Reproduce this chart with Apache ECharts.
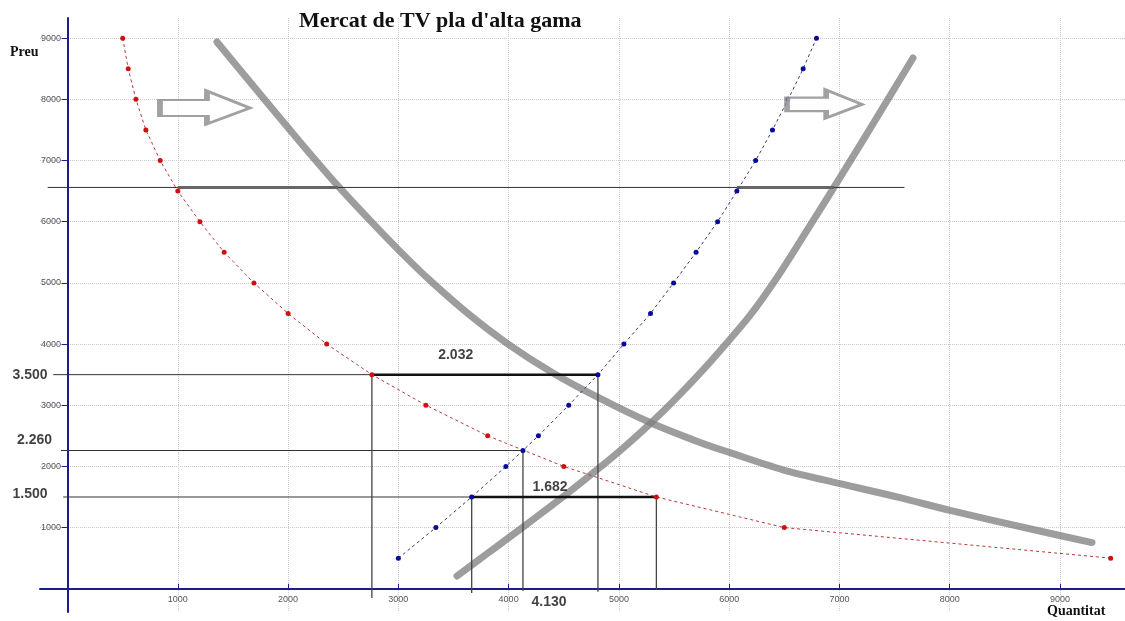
<!DOCTYPE html>
<html>
<head>
<meta charset="utf-8">
<title>Mercat de TV pla d'alta gama</title>
<script src="https://cdn.jsdelivr.net/npm/echarts@6/dist/echarts.min.js"></script>
<style>
html, body { margin: 0; padding: 0; background: #fff; }
#main { width: 1125px; height: 621px; }
</style>
</head>
<body>
<div id="main"></div>
<script>
// tick labels on both axes
var tickValues = [1000, 2000, 3000, 4000, 5000, 6000, 7000, 8000, 9000];

// demand (red dots)
var demandQty = [500, 550, 620, 710, 840, 1000, 1200, 1420, 1690, 2000, 2350, 2760, 3250, 3810, 4500, 5340, 6500, 9460];
var demandPrice = [9000, 8500, 8000, 7500, 7000, 6500, 6000, 5500, 5000, 4500, 4000, 3500, 3000, 2500, 2000, 1500, 1000, 500];

// supply (blue dots)
var supplyQty = [3000, 3340, 3665, 3975, 4130, 4270, 4545, 4810, 5045, 5287, 5496, 5700, 5895, 6070, 6240, 6393, 6535, 6671, 6792];
var supplyPrice = [500, 1000, 1500, 2000, 2260, 2500, 3000, 3500, 4000, 4500, 5000, 5500, 6000, 6500, 7000, 7500, 8000, 8500, 9000];

// hand drawn shifted curves (grey)
var newDemandQty = [1355, 1745, 2108, 2452, 2743, 3015, 3287, 3631, 3985, 4402, 4829, 5282, 5736, 6008, 6488, 7005, 7549, 8003, 8756, 9291];
var newDemandPrice = [8938, 8088, 7304, 6585, 6021, 5515, 5040, 4499, 4013, 3528, 3111, 2718, 2392, 2225, 1945, 1718, 1490, 1280, 968, 755];
var newSupplyQty = [3532, 3831, 4130, 4529, 4829, 5056, 5282, 5509, 5736, 5963, 6189, 6416, 6642, 6915, 7187, 7459, 7667];
var newSupplyPrice = [209, 608, 1007, 1553, 1985, 2328, 2696, 3096, 3524, 3985, 4468, 5040, 5673, 6458, 7252, 8056, 8677];

// guide lines [x1, y1, x2, y2]
var thinGuides = [[-180, 6560, 7590, 6560], [-130, 3500, 2760, 3500], [-60, 2260, 4130, 2260], [-40, 1500, 3665, 1500]];
var boldGuides = [[2760, 3500, 4810, 3500], [3665, 1500, 5340, 1500]];
var pencilGuides = [[1000, 6560, 2452, 6560], [6070, 6560, 6950, 6560]];
var dropGuides = [[2760, 3500, 2760, -150], [3665, 1500, 3665, -70], [4130, 2260, 4130, -35], [4810, 3500, 4810, -50], [5340, 1500, 5340, -20]];

// annotations
var noteTexts = ['3.500', '2.260', '1.500', '2.032', '1.682', '4.130'];
var noteQty = [-340, -300, -340, 3520, 4375, 4366];
var notePrice = [3500, 2430, 1550, 3820, 1664, -216];

// shift arrows
var arrowQty = [1246, 6865];
var arrowPrice = [7868, 7925];

var zip = function (xs, ys) {
    return xs.map(function (x, i) { return [x, ys[i]]; });
};

var segSeries = function (segs, color, width, z) {
    return segs.map(function (s) {
        return {
            type: 'line',
            data: [[s[0], s[1]], [s[2], s[3]]],
            symbol: 'none',
            silent: true,
            z: z,
            lineStyle: { color: color, width: width }
        };
    });
};

var axisColor = '#1c1c8c';
var arrowPath = 'path://M0,9 L47,9 L47,0 L90,17 L47,33 L47,25 L0,25 Z';
var plainNumber = function (v) { return String(v); };

var chart = echarts.init(document.getElementById('main'));

var option = {
    animation: false,
    backgroundColor: '#fff',
    title: {
        text: "Mercat de TV pla d'alta gama",
        left: 294,
        top: 5,
        textStyle: { fontFamily: 'Liberation Serif', fontWeight: 'bold', fontSize: 22, color: '#111' }
    },
    grid: { left: 40, right: 0, top: 18, bottom: 9, containLabel: false, outerBoundsMode: 'none' },
    xAxis: {
        type: 'value',
        min: -250,
        max: 9590,
        axisLine: { onZero: true, lineStyle: { color: axisColor, width: 2 } },
        axisTick: { customValues: tickValues, inside: true, length: 5, lineStyle: { color: axisColor } },
        // labels stay on the grid edge, pull them up to the zero line
        axisLabel: { customValues: tickValues, formatter: plainNumber, color: '#555', fontSize: 9, margin: -17, fontFamily: 'Liberation Sans' },
        splitLine: { show: true, lineStyle: { color: '#cacad0', type: 'dotted' } }
    },
    yAxis: {
        type: 'value',
        min: -380,
        max: 9330,
        axisLine: { onZero: true, lineStyle: { color: axisColor, width: 2 } },
        axisTick: { customValues: tickValues, length: 6, lineStyle: { color: axisColor } },
        axisLabel: { customValues: tickValues, formatter: plainNumber, color: '#555', fontSize: 9, margin: -21, fontFamily: 'Liberation Sans' },
        splitLine: { show: true, lineStyle: { color: '#cacad0', type: 'dotted' } }
    },
    graphic: [
        { type: 'text', left: 10, top: 45, style: { text: 'Preu', font: 'bold 14px "Liberation Serif"', fill: '#111' } },
        { type: 'text', left: 1047, top: 604, style: { text: 'Quantitat', font: 'bold 14px "Liberation Serif"', fill: '#111' } }
    ],
    series: [].concat(
        segSeries(thinGuides, '#333', 1, 3),
        segSeries(dropGuides, '#444', 1.3, 3),
        segSeries(boldGuides, '#111', 2.5, 4),
        segSeries(pencilGuides, '#666', 3, 4),
        [
            {
                type: 'line',
                data: zip(newDemandQty, newDemandPrice),
                smooth: 0.3,
                symbol: 'none',
                z: 2,
                lineStyle: { color: 'rgba(130,130,130,0.78)', width: 7, cap: 'round' }
            },
            {
                type: 'line',
                data: zip(newSupplyQty, newSupplyPrice),
                smooth: 0.3,
                symbol: 'none',
                z: 2,
                lineStyle: { color: 'rgba(130,130,130,0.78)', width: 7, cap: 'round' }
            },
            {
                type: 'line',
                data: zip(demandQty, demandPrice),
                symbol: 'circle',
                symbolSize: 5,
                z: 5,
                itemStyle: { color: '#d01010' },
                lineStyle: { color: '#b83a3a', width: 1, type: [3, 3] }
            },
            {
                type: 'line',
                data: zip(supplyQty, supplyPrice),
                symbol: 'circle',
                symbolSize: 5,
                z: 5,
                itemStyle: { color: '#0a0a9a' },
                lineStyle: { color: '#3a3a70', width: 1, type: [3, 3] }
            },
            {
                type: 'scatter',
                data: zip(arrowQty, arrowPrice),
                symbol: arrowPath,
                symbolSize: function (v, p) { return p.dataIndex === 0 ? [90, 33] : [75, 28]; },
                z: 6,
                itemStyle: { color: '#fff', borderColor: '#8a8a8a', borderWidth: 3.5 }
            },
            {
                type: 'scatter',
                clip: false,
                data: zip(noteQty, notePrice),
                symbolSize: 1,
                itemStyle: { color: 'rgba(0,0,0,0)' },
                z: 7,
                label: {
                    show: true,
                    position: 'inside',
                    formatter: function (p) { return noteTexts[p.dataIndex]; },
                    fontFamily: 'Liberation Sans',
                    fontWeight: 'bold',
                    fontSize: 14,
                    color: '#111'
                }
            }
        ]
    )
};

chart.setOption(option);
</script>
</body>
</html>
